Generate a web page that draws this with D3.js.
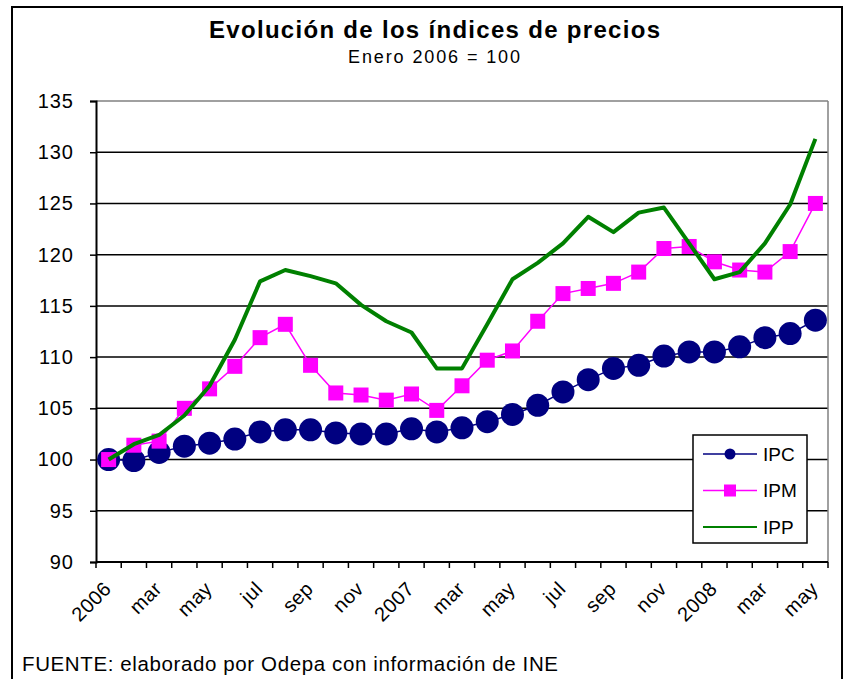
<!DOCTYPE html>
<html>
<head>
<meta charset="utf-8">
<script src="https://cdn.jsdelivr.net/npm/d3@7"></script>
<style>
	body { margin: 0; background: #fff; }
	text { font-family: 'Liberation Sans', Arial, sans-serif; fill: #000; }
</style>
</head>
<body>
<svg id="chart" width="845" height="679"></svg>
<script>

var months = ['2006','feb','mar','abr','may','jun','jul','ago','sep','oct','nov','dic',
	'2007','feb','mar','abr','may','jun','jul','ago','sep','oct','nov','dic',
	'2008','feb','mar','abr','may'];

var ipc = [100.0, 99.9, 100.7, 101.3, 101.6, 102.0, 102.7, 102.9, 102.9, 102.6, 102.5, 102.5,
	103.0, 102.7, 103.1, 103.7, 104.4, 105.3, 106.6, 107.8, 108.9, 109.2, 110.1, 110.5,
	110.5, 111.0, 111.9, 112.3, 113.6];

var ipm = [100.0, 101.4, 101.8, 105.0, 106.9, 109.1, 111.9, 113.2, 109.2, 106.5, 106.3, 105.8,
	106.4, 104.8, 107.2, 109.7, 110.6, 113.5, 116.2, 116.7, 117.2, 118.3, 120.6, 120.8,
	119.3, 118.5, 118.3, 120.3, 125.0];

var ipp = [100.0, 101.5, 102.4, 104.3, 107.2, 111.7, 117.4, 118.5, 117.9, 117.2, 115.1, 113.5,
	112.4, 108.9, 108.9, 113.2, 117.6, 119.2, 121.1, 123.7, 122.2, 124.1, 124.6, 121.1,
	117.6, 118.3, 121.1, 124.9, 131.3];

var yTicks = [90, 95, 100, 105, 110, 115, 120, 125, 130, 135];
var legendNames = ['IPC', 'IPM', 'IPP'];

var svg = d3.select('#chart');
var g = svg.append('g');

// plot area (note: "top" is taken by window.top)
var pLeft = 96, pRight = 828, pTop = 101, pBottom = 562;

// outer frame
g.append('rect')
	.attr('x', 12)
	.attr('y', 7)
	.attr('width', 830)
	.attr('height', 690)
	.style('fill', 'none')
	.attr('stroke', '#000')
	.attr('stroke-width', 2);

var xScale = d3.scaleBand()
	.domain(d3.range(months.length))
	.range([pLeft, pRight]);

var yScale = d3.scaleLinear()
	.domain([90, 135])
	.range([pBottom, pTop]);

function cx(i) { return xScale(i) + xScale.bandwidth() / 2; }

// title
g.append('text')
	.attr('x', 209)
	.attr('y', 38)
	.text('Evolución de los índices de precios')
	.style('font-size', '24px')
	.style('font-weight', 'bold')
	.attr('textLength', 451)
	.attr('lengthAdjust', 'spacing');

g.append('text')
	.attr('x', 348)
	.attr('y', 63)
	.text('Enero 2006 = 100')
	.style('font-size', '18px')
	.attr('textLength', 172)
	.attr('lengthAdjust', 'spacing');

// grid lines
g.selectAll('.grid')
	.data(yTicks.slice(1))
	.enter().append('line')
	.attr('x1', pLeft)
	.attr('x2', pRight)
	.attr('y1', function(d) { return yScale(d); })
	.attr('y2', function(d) { return yScale(d); })
	.attr('stroke', function(d) { return d == 135 ? '#808080' : '#000'; })
	.attr('stroke-width', 1.5);

// right border of plot
g.append('line')
	.attr('x1', pRight)
	.attr('x2', pRight)
	.attr('y1', pTop)
	.attr('y2', pBottom)
	.attr('stroke', '#808080')
	.attr('stroke-width', 1.5);

// y axis
var yAxis = d3.axisLeft(yScale)
	.tickValues(yTicks)
	.tickSize(6)
	.tickPadding(16);

var ya = g.append('g')
	.attr('transform', 'translate(' + pLeft + ',0)')
	.call(yAxis);
ya.select('.domain').attr('stroke', '#000').attr('stroke-width', 2);
ya.selectAll('.tick line').attr('stroke', '#000').attr('stroke-width', 1.5);
ya.selectAll('.tick text')
	.style('font-size', '20px')
	.style('letter-spacing', '1px')
	.attr('fill', '#000')
	.style('font-family', "'Liberation Sans', Arial, sans-serif");

// x axis: ticks at category boundaries
var xa = g.append('g');
xa.append('line')
	.attr('x1', pLeft)
	.attr('x2', pRight)
	.attr('y1', pBottom)
	.attr('y2', pBottom)
	.attr('stroke', '#000')
	.attr('stroke-width', 2);

xa.selectAll('.xtick')
	.data(d3.range(months.length + 1))
	.enter().append('line')
	.attr('x1', function(d) { return pLeft + d * xScale.step(); })
	.attr('x2', function(d) { return pLeft + d * xScale.step(); })
	.attr('y1', pBottom)
	.attr('y2', pBottom + 6)
	.attr('stroke', '#000')
	.attr('stroke-width', 1.5);

xa.selectAll('.xlabel')
	.data(d3.range(0, months.length, 2))
	.enter().append('text')
	.attr('transform', function(i) {
		return 'translate(' + (cx(i) - 1) + ',' + (pBottom + 23) + ') rotate(-45)';
	})
	.attr('dy', '0.35em')
	.text(function(i) { return months[i]; })
	.style('font-size', '20px')
	.style('letter-spacing', '0.5px')
	.attr('text-anchor', 'end');

// series
var line = function(data) {
	return d3.line()
		.x(function(d, i) { return cx(i); })
		.y(function(d) { return yScale(d); })(data);
};

g.append('path')
	.attr('d', line(ipc))
	.style('fill', 'none')
	.attr('stroke', '#000080')
	.attr('stroke-width', 1.5);

g.selectAll('.ipc')
	.data(ipc)
	.enter().append('circle')
	.attr('cx', function(d, i) { return cx(i); })
	.attr('cy', function(d) { return yScale(d); })
	.attr('r', 11.5)
	.style('fill', '#000080');

g.append('path')
	.attr('d', line(ipm))
	.style('fill', 'none')
	.attr('stroke', '#ff00ff')
	.attr('stroke-width', 1.5);

g.selectAll('.ipm')
	.data(ipm)
	.enter().append('rect')
	.attr('x', function(d, i) { return cx(i) - 7.5; })
	.attr('y', function(d) { return yScale(d) - 7.5; })
	.attr('width', 15)
	.attr('height', 15)
	.style('fill', '#ff00ff');

g.append('path')
	.attr('d', line(ipp))
	.style('fill', 'none')
	.attr('stroke', '#008000')
	.attr('stroke-width', 4)
	.attr('stroke-linejoin', 'round');

// legend
g.append('rect')
	.attr('x', 693)
	.attr('y', 435)
	.attr('width', 114)
	.attr('height', 108)
	.style('fill', '#fff')
	.attr('stroke', '#000')
	.attr('stroke-width', 1.5);

var legendColors = ['#000080', '#ff00ff', '#008000'];
var legendY = d3.scalePoint().domain(legendNames).range([454, 527]);

legendNames.forEach(function(name, k) {
	var y = legendY(name);
	g.append('line')
		.attr('x1', 703)
		.attr('x2', 757)
		.attr('y1', y)
		.attr('y2', y)
		.attr('stroke', legendColors[k])
		.attr('stroke-width', k == 2 ? 2 : 1.5);
	if (k == 0) {
		g.append('circle').attr('cx', 730).attr('cy', y).attr('r', 5.5).style('fill', legendColors[k]);
	} else if (k == 1) {
		g.append('rect').attr('x', 724).attr('y', y - 6).attr('width', 12).attr('height', 12).style('fill', legendColors[k]);
	}
	g.append('text')
		.attr('x', 763)
		.attr('y', y)
		.attr('dy', '0.36em')
		.text(name)
		.style('font-size', '19px');
});

// footer
g.append('text')
	.attr('x', 22)
	.attr('y', 671)
	.text('FUENTE: elaborado por Odepa con información de INE')
	.style('font-size', '20.5px')
	.attr('textLength', 536)
	.attr('lengthAdjust', 'spacing');

</script>
</body>
</html>
